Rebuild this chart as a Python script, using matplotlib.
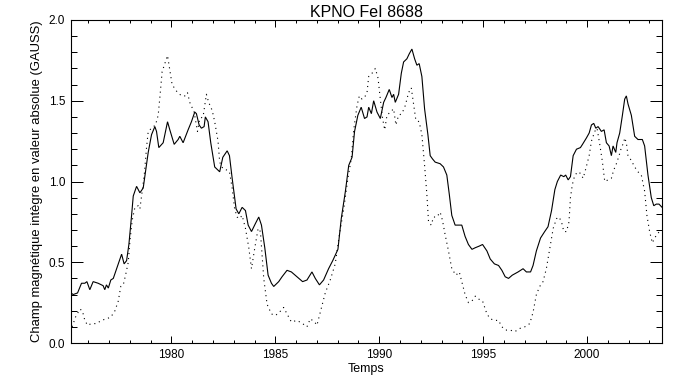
import matplotlib
matplotlib.use("Agg")
import matplotlib.pyplot as plt
from matplotlib.ticker import MultipleLocator, FormatStrFormatter

# ---- data ----
solid_year = [1975.16, 1975.27, 1975.48, 1975.67, 1975.83, 1975.93, 1976.07, 1976.23, 1976.47, 1976.71,
              1976.79, 1976.87, 1976.96, 1977.08, 1977.20, 1977.44, 1977.60, 1977.72, 1977.84, 1977.95,
              1978.08, 1978.16, 1978.32, 1978.48, 1978.64, 1978.75, 1978.88, 1979.04, 1979.20, 1979.28,
              1979.39, 1979.60, 1979.81, 1979.92, 1980.13, 1980.32, 1980.40, 1980.56, 1980.80, 1980.96,
              1981.12, 1981.20, 1981.33, 1981.44, 1981.57, 1981.63, 1981.76, 1981.89, 1982.08, 1982.32,
              1982.47, 1982.68, 1982.79, 1982.92, 1983.11, 1983.24, 1983.40, 1983.56, 1983.69, 1983.85,
              1984.04, 1984.20, 1984.33, 1984.49, 1984.65, 1984.81, 1984.92, 1985.16, 1985.32, 1985.56,
              1985.77, 1986.04, 1986.31, 1986.52, 1986.76, 1986.92, 1987.12, 1987.32, 1987.56, 1987.76,
              1988.01, 1988.17, 1988.37, 1988.53, 1988.69, 1988.81, 1988.97, 1989.13, 1989.29, 1989.41,
              1989.49, 1989.62, 1989.73, 1989.89, 1990.05, 1990.21, 1990.32, 1990.48, 1990.61, 1990.69,
              1990.77, 1990.93, 1991.06, 1991.17, 1991.33, 1991.44, 1991.57, 1991.70, 1991.81, 1991.92,
              1992.05, 1992.18, 1992.34, 1992.45, 1992.56, 1992.69, 1992.93, 1993.09, 1993.25, 1993.37,
              1993.49, 1993.65, 1993.81, 1993.97, 1994.13, 1994.29, 1994.46, 1994.62, 1994.81, 1994.97,
              1995.18, 1995.34, 1995.54, 1995.74, 1995.90, 1996.06, 1996.22, 1996.40, 1996.68, 1996.92,
              1997.08, 1997.28, 1997.40, 1997.56, 1997.76, 1997.96, 1998.12, 1998.29, 1998.45, 1998.57,
              1998.73, 1998.88, 1998.97, 1999.09, 1999.20, 1999.33, 1999.49, 1999.68, 1999.78, 1999.97,
              2000.10, 2000.21, 2000.32, 2000.42, 2000.53, 2000.69, 2000.82, 2000.93, 2001.06, 2001.17,
              2001.25, 2001.38, 2001.44, 2001.57, 2001.70, 2001.81, 2001.89, 2001.97, 2002.13, 2002.29,
              2002.45, 2002.66, 2002.77, 2002.93, 2003.09, 2003.21, 2003.33, 2003.46, 2003.61]
solid_field = [0.31, 0.30, 0.31, 0.37, 0.37, 0.38, 0.33, 0.38, 0.37, 0.355,
               0.33, 0.36, 0.34, 0.39, 0.40, 0.49, 0.55, 0.49, 0.51, 0.61,
               0.79, 0.91, 0.97, 0.93, 0.96, 1.06, 1.18, 1.29, 1.34, 1.31,
               1.21, 1.24, 1.37, 1.32, 1.23, 1.26, 1.28, 1.24, 1.32, 1.37,
               1.43, 1.42, 1.35, 1.33, 1.34, 1.40, 1.37, 1.24, 1.09, 1.06,
               1.15, 1.19, 1.16, 1.02, 0.83, 0.80, 0.84, 0.82, 0.73, 0.69,
               0.74, 0.78, 0.73, 0.59, 0.42, 0.37, 0.35, 0.38, 0.41, 0.45,
               0.44, 0.41, 0.38, 0.39, 0.44, 0.40, 0.36, 0.39, 0.46, 0.51,
               0.58, 0.77, 0.94, 1.10, 1.15, 1.31, 1.41, 1.46, 1.39, 1.40,
               1.46, 1.42, 1.50, 1.43, 1.39, 1.49, 1.52, 1.57, 1.52, 1.54,
               1.49, 1.54, 1.67, 1.74, 1.76, 1.79, 1.82, 1.76, 1.72, 1.73,
               1.65, 1.45, 1.29, 1.16, 1.14, 1.12, 1.11, 1.09, 1.04, 0.92,
               0.79, 0.73, 0.73, 0.73, 0.66, 0.61, 0.58, 0.59, 0.60, 0.61,
               0.57, 0.52, 0.49, 0.48, 0.45, 0.41, 0.40, 0.42, 0.44, 0.46,
               0.44, 0.44, 0.48, 0.57, 0.65, 0.69, 0.72, 0.82, 0.95, 1.00,
               1.04, 1.03, 1.04, 1.01, 1.03, 1.16, 1.20, 1.21, 1.23, 1.27,
               1.30, 1.35, 1.36, 1.33, 1.34, 1.31, 1.32, 1.24, 1.22, 1.16,
               1.22, 1.18, 1.24, 1.30, 1.41, 1.51, 1.53, 1.48, 1.41, 1.28,
               1.26, 1.26, 1.22, 1.04, 0.90, 0.85, 0.86, 0.86, 0.84]

dotted_year = [1975.22, 1975.38, 1975.59, 1975.71, 1975.83, 1975.96, 1976.15, 1976.39, 1976.63, 1976.87,
               1977.08, 1977.28, 1977.44, 1977.56, 1977.68, 1977.79, 1977.92, 1978.00, 1978.11, 1978.24,
               1978.40, 1978.48, 1978.59, 1978.69, 1978.80, 1978.88, 1979.04, 1979.23, 1979.36, 1979.44,
               1979.55, 1979.68, 1979.81, 1979.92, 1980.03, 1980.24, 1980.48, 1980.67, 1980.77, 1980.88,
               1981.09, 1981.25, 1981.36, 1981.52, 1981.60, 1981.68, 1981.79, 1981.96, 1982.08, 1982.24,
               1982.32, 1982.47, 1982.68, 1982.79, 1982.92, 1983.04, 1983.16, 1983.27, 1983.40, 1983.56,
               1983.72, 1983.85, 1984.01, 1984.17, 1984.28, 1984.44, 1984.60, 1984.81, 1985.00, 1985.19,
               1985.40, 1985.56, 1985.77, 1986.04, 1986.31, 1986.52, 1986.68, 1986.89, 1987.00, 1987.16,
               1987.40, 1987.64, 1987.88, 1988.08, 1988.29, 1988.49, 1988.65, 1988.77, 1988.93, 1989.04,
               1989.17, 1989.33, 1989.41, 1989.49, 1989.65, 1989.81, 1989.94, 1990.05, 1990.16, 1990.26,
               1990.37, 1990.53, 1990.69, 1990.80, 1990.93, 1991.09, 1991.25, 1991.41, 1991.54, 1991.65,
               1991.76, 1991.92, 1992.05, 1992.18, 1992.29, 1992.37, 1992.50, 1992.61, 1992.77, 1992.93,
               1993.04, 1993.17, 1993.33, 1993.49, 1993.69, 1993.85, 1993.97, 1994.13, 1994.29, 1994.46,
               1994.62, 1994.81, 1994.97, 1995.18, 1995.34, 1995.54, 1995.74, 1995.90, 1996.09, 1996.30,
               1996.52, 1996.76, 1997.00, 1997.24, 1997.40, 1997.56, 1997.72, 1997.88, 1998.04, 1998.21,
               1998.37, 1998.53, 1998.65, 1998.77, 1998.88, 1999.01, 1999.13, 1999.20, 1999.29, 1999.41,
               1999.57, 1999.68, 1999.81, 1999.94, 2000.10, 2000.21, 2000.37, 2000.48, 2000.61, 2000.74,
               2000.85, 2001.01, 2001.17, 2001.28, 2001.41, 2001.54, 2001.65, 2001.76, 2001.81, 2001.89,
               2001.97, 2002.13, 2002.29, 2002.45, 2002.61, 2002.77, 2002.88, 2003.01, 2003.14, 2003.25,
               2003.41, 2003.57]
dotted_field = [0.10, 0.16, 0.21, 0.20, 0.14, 0.11, 0.12, 0.12, 0.14, 0.15,
                0.16, 0.20, 0.26, 0.35, 0.36, 0.42, 0.50, 0.63, 0.76, 0.84,
                0.85, 0.83, 0.94, 1.04, 1.21, 1.31, 1.33, 1.35, 1.41, 1.52,
                1.68, 1.73, 1.78, 1.69, 1.60, 1.56, 1.53, 1.53, 1.55, 1.49,
                1.43, 1.31, 1.39, 1.40, 1.47, 1.54, 1.49, 1.44, 1.37, 1.25,
                1.12, 1.08, 1.07, 1.06, 0.96, 0.83, 0.78, 0.77, 0.79, 0.71,
                0.59, 0.46, 0.59, 0.71, 0.69, 0.40, 0.24, 0.18, 0.17, 0.19,
                0.22, 0.18, 0.13, 0.14, 0.12, 0.10, 0.15, 0.13, 0.11, 0.19,
                0.31, 0.39, 0.49, 0.67, 0.83, 1.02, 1.14, 1.32, 1.47, 1.53,
                1.51, 1.53, 1.55, 1.65, 1.67, 1.70, 1.64, 1.51, 1.39, 1.32,
                1.41, 1.43, 1.45, 1.35, 1.41, 1.42, 1.47, 1.55, 1.58, 1.48,
                1.38, 1.37, 1.29, 1.10, 0.92, 0.75, 0.73, 0.78, 0.78, 0.81,
                0.76, 0.67, 0.57, 0.46, 0.42, 0.44, 0.38, 0.30, 0.25, 0.26,
                0.29, 0.27, 0.26, 0.18, 0.15, 0.14, 0.14, 0.10, 0.08, 0.08,
                0.07, 0.09, 0.10, 0.12, 0.19, 0.30, 0.35, 0.38, 0.46, 0.59,
                0.71, 0.77, 0.78, 0.75, 0.69, 0.69, 0.75, 0.90, 0.98, 1.04,
                1.06, 1.05, 1.02, 1.08, 1.16, 1.25, 1.31, 1.33, 1.23, 1.12,
                1.00, 1.01, 1.02, 1.07, 1.11, 1.16, 1.21, 1.24, 1.27, 1.24,
                1.16, 1.13, 1.09, 1.06, 1.04, 0.94, 0.79, 0.69, 0.62, 0.65,
                0.68, 0.70]

title = "KPNO FeI 8688"
xlabel = "Temps"
ylabel = "Champ magnétique intègre en valeur absolue (GAUSS)"
x_range = (1975.15, 2003.62)
y_range = (0.0, 2.0)

# ---- figure ----
plt.rcParams['font.family'] = ['Liberation Sans', 'DejaVu Sans']
W, H = 683, 384
fig = plt.figure(figsize=(W / 100, H / 100), dpi=100)
ax = fig.add_axes([70.7 / W, 1 - 343 / H, (662.3 - 70.7) / W, (343 - 20) / H])

lw = 0.8
ax.plot(solid_year, solid_field, color='black', lw=lw, solid_joinstyle='miter')
ax.plot(dotted_year, dotted_field, color='black', lw=lw, linestyle=(0, (1, 3.5)))

ax.set_xlim(*x_range)
ax.set_ylim(*y_range)

ax.xaxis.set_major_locator(MultipleLocator(5))
ax.xaxis.set_minor_locator(MultipleLocator(1))
ax.yaxis.set_major_locator(MultipleLocator(0.5))
ax.yaxis.set_minor_locator(MultipleLocator(0.1))
ax.yaxis.set_major_formatter(FormatStrFormatter('%.1f'))
ax.xaxis.set_major_formatter(FormatStrFormatter('%d'))

ax.tick_params(axis='both', which='both', direction='in', top=True, right=True,
               width=0.72, colors='black', labelsize=8.5)
ax.tick_params(axis='x', which='major', length=4.7, pad=4)
ax.tick_params(axis='x', which='minor', length=2.4)
ax.tick_params(axis='y', which='major', length=8.5, pad=4)
ax.tick_params(axis='y', which='minor', length=4.2)

for s in ax.spines.values():
    s.set_linewidth(0.8)

ax.set_title(title, fontsize=11.5, pad=2)
ax.set_xlabel(xlabel, fontsize=9, labelpad=2)
ax.set_ylabel(ylabel, fontsize=9.4, labelpad=4)

fig.savefig("out.png", dpi=100, facecolor='white')
